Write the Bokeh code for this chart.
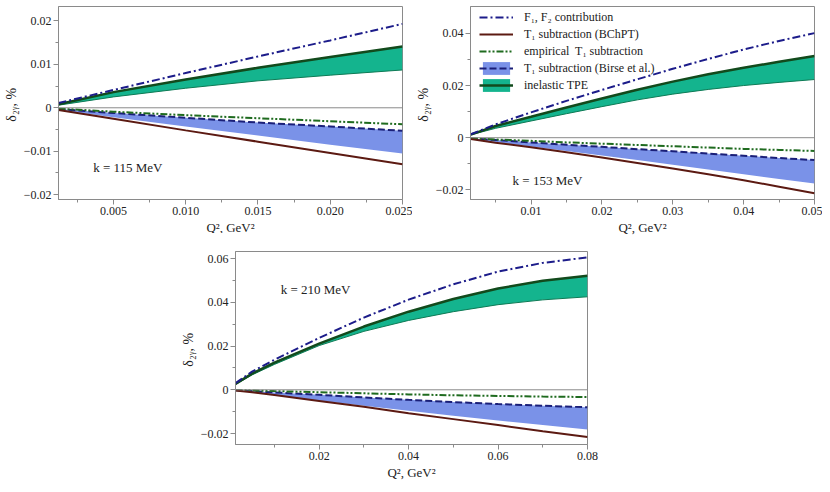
from bokeh.plotting import figure
from bokeh.models import Range1d, FixedTicker, Span, Label, Legend, LegendItem, Spacer
from bokeh.layouts import row, column
from bokeh.embed import file_html
from bokeh.resources import INLINE

# ---------------- data ----------------
P1_Q2 = [0.0012, 0.005, 0.010, 0.015, 0.020, 0.025]
P1_F1F2 = [0.0011, 0.0041, 0.0080, 0.0118, 0.0155, 0.0193]
P1_TPE_HI = [0.0008, 0.0036, 0.0065, 0.0092, 0.0117, 0.0141]
P1_TPE_LO = [0.0006, 0.0025, 0.0045, 0.0062, 0.0075, 0.0087]
P1_BCHPT = [-0.0005, -0.0025, -0.0052, -0.0078, -0.0104, -0.0130]
P1_EMP = [-0.0002, -0.0009, -0.0017, -0.0024, -0.0031, -0.0038]
P1_BIRSE_HI = [-0.0003, -0.0012, -0.0023, -0.0034, -0.0043, -0.0053]
P1_BIRSE_LO = [-0.0005, -0.0022, -0.0043, -0.0064, -0.0085, -0.0105]

P2_Q2 = [0.0015, 0.005, 0.010, 0.015, 0.020, 0.025, 0.030, 0.035, 0.040, 0.045, 0.050]
P2_F1F2 = [0.0013, 0.0051, 0.0097, 0.0141, 0.0183, 0.0224, 0.0264, 0.0302, 0.0338, 0.0371, 0.0401]
P2_TPE_HI = [0.0012, 0.0045, 0.0080, 0.0116, 0.0150, 0.0184, 0.0215, 0.0243, 0.0268, 0.0291, 0.0313]
P2_TPE_LO = [0.0011, 0.0036, 0.0064, 0.0092, 0.0119, 0.0145, 0.0167, 0.0185, 0.0200, 0.0212, 0.0223]
P2_BCHPT = [-0.0005, -0.0019, -0.0037, -0.0056, -0.0076, -0.0097, -0.0118, -0.0140, -0.0163, -0.0188, -0.0213]
P2_EMP = [-0.0002, -0.0007, -0.0012, -0.0018, -0.0023, -0.0028, -0.0033, -0.0038, -0.0043, -0.0047, -0.0051]
P2_BIRSE_HI = [-0.0003, -0.0009, -0.0018, -0.0027, -0.0035, -0.0044, -0.0052, -0.0061, -0.0069, -0.0078, -0.0086]
P2_BIRSE_LO = [-0.0005, -0.0017, -0.0034, -0.0051, -0.0068, -0.0086, -0.0104, -0.0122, -0.0140, -0.0158, -0.0176]

P3_Q2 = [0.0013, 0.005, 0.010, 0.020, 0.030, 0.040, 0.050, 0.060, 0.070, 0.080]
P3_F1F2 = [0.0030, 0.0083, 0.0137, 0.0237, 0.0330, 0.0412, 0.0482, 0.0540, 0.0580, 0.0605]
P3_TPE_HI = [0.0027, 0.0074, 0.0124, 0.0211, 0.0289, 0.0357, 0.0415, 0.0463, 0.0498, 0.0521]
P3_TPE_LO = [0.0024, 0.0068, 0.0116, 0.0202, 0.0267, 0.0317, 0.0357, 0.0389, 0.0411, 0.0425]
P3_BCHPT = [-0.0003, -0.0011, -0.0024, -0.0051, -0.0078, -0.0107, -0.0134, -0.0161, -0.0189, -0.0216]
P3_EMP = [-0.0001, -0.0003, -0.0006, -0.0011, -0.0016, -0.0021, -0.0025, -0.0028, -0.0031, -0.0033]
P3_BIRSE_HI = [-0.0002, -0.0006, -0.0012, -0.0023, -0.0035, -0.0046, -0.0056, -0.0065, -0.0073, -0.0080]
P3_BIRSE_LO = [-0.0004, -0.0012, -0.0025, -0.0050, -0.0073, -0.0096, -0.0119, -0.0140, -0.0161, -0.0182]

P1_XTICKS = [0.005, 0.010, 0.015, 0.020, 0.025]
P1_XLABELS = ["0.005", "0.010", "0.015", "0.020", "0.025"]
P1_XMINOR = [0.0025, 0.0075, 0.0125, 0.0175, 0.0225]
P1_YTICKS = [-0.02, -0.01, 0.0, 0.01, 0.02]
P1_YLABELS = ["\u22120.02", "\u22120.01", "0", "0.01", "0.02"]
P1_YMINOR = [-0.015, -0.005, 0.005, 0.015]

P2_XTICKS = [0.01, 0.02, 0.03, 0.04, 0.05]
P2_XLABELS = ["0.01", "0.02", "0.03", "0.04", "0.05"]
P2_XMINOR = [0.005, 0.015, 0.025, 0.035, 0.045]
P2_YTICKS = [-0.02, 0.0, 0.02, 0.04]
P2_YLABELS = ["\u22120.02", "0", "0.02", "0.04"]
P2_YMINOR = [-0.01, 0.01, 0.03]

P3_XTICKS = [0.02, 0.04, 0.06, 0.08]
P3_XLABELS = ["0.02", "0.04", "0.06", "0.08"]
P3_XMINOR = [0.01, 0.03, 0.05, 0.07]
P3_YTICKS = [-0.02, 0.0, 0.02, 0.04, 0.06]
P3_YLABELS = ["\u22120.02", "0", "0.02", "0.04", "0.06"]
P3_YMINOR = [-0.01, 0.01, 0.03, 0.05]

LEGEND_LABELS = ["F\u2081, F\u2082 contribution", "T\u2081 subtraction (BChPT)",
                 "empirical  T\u2081 subtraction", "T\u2081 subtraction (Birse et al.)",
                 "inelastic TPE"]

FONT = "Liberation Serif"
GRAY = "#8a8a8a"
C_F1F2 = "#1c1c8a"
C_BCHPT = "#5c1a12"
C_EMP = "#1f6b1f"
C_BIRSE_FILL = "#7a92e8"
C_BIRSE_LINE = "#1a1f78"
C_TPE_FILL = "#14b48e"
C_TPE_LINE = "#124a1c"


def make_panel(q2, f1f2, tpe_hi, tpe_lo, bchpt, emp, birse_hi, birse_lo,
               xr, yr, xt, xl, xm, yt, yl, ym, ktext, kx, ky, fw,
               border_left, border_right, border_top, border_bottom, legend=False):
    p = figure(frame_width=fw, frame_height=193, output_backend="svg",
               toolbar_location=None, x_range=Range1d(*xr), y_range=Range1d(*yr),
               min_border_left=border_left, min_border_right=border_right,
               min_border_top=border_top, min_border_bottom=border_bottom)
    p.xgrid.visible = False
    p.ygrid.visible = False
    p.outline_line_color = GRAY
    p.outline_line_width = 1
    p.background_fill_color = "white"

    for ax, ticks, labels, minor in ((p.xaxis[0], xt, xl, xm), (p.yaxis[0], yt, yl, ym)):
        ax.ticker = FixedTicker(ticks=ticks, minor_ticks=minor)
        ax.major_label_overrides = dict(zip(ticks, labels))
        ax.axis_line_color = GRAY
        ax.major_tick_line_color = GRAY
        ax.minor_tick_line_color = GRAY
        ax.major_tick_out = 5
        ax.major_tick_in = 0
        ax.minor_tick_out = 3
        ax.minor_tick_in = 0
        ax.major_label_text_font = FONT
        ax.major_label_text_font_size = "12px"
        ax.major_label_text_color = "#222222"
        ax.axis_label_text_font = FONT
        ax.axis_label_text_font_size = "13px"
        ax.axis_label_text_font_style = "normal"
        ax.axis_label_text_color = "#222222"
        ax.major_label_standoff = 2
        ax.axis_label_standoff = 2
    p.xaxis.axis_label = "Q\u00b2, GeV\u00b2"
    p.yaxis.axis_label = "\u03b4\u2082\u1d67,  %"
    p.yaxis.axis_label_text_font_size = "14px"

    p.add_layout(Span(location=0, dimension="width", line_color=GRAY, line_width=1))

    r_birse = p.varea(x=q2, y1=birse_lo, y2=birse_hi, fill_color=C_BIRSE_FILL)
    r_tpe = p.varea(x=q2, y1=tpe_lo, y2=tpe_hi, fill_color=C_TPE_FILL)
    p.line(q2, tpe_lo, line_color="#0e7a55", line_width=1)
    r_tpe_l = p.line(q2, tpe_hi, line_color=C_TPE_LINE, line_width=2.5)
    r_birse_l = p.line(q2, birse_hi, line_color=C_BIRSE_LINE, line_width=2, line_dash="7 3")
    r_emp = p.line(q2, emp, line_color=C_EMP, line_width=2, line_dash="7 2 2 2 2 2")
    r_bchpt = p.line(q2, bchpt, line_color=C_BCHPT, line_width=2)
    r_f1f2 = p.line(q2, f1f2, line_color=C_F1F2, line_width=2, line_dash="8 3 2 3")

    p.add_layout(Label(x=kx, y=ky, text=ktext, text_font=FONT, text_font_size="13px",
                       text_color="#222222", text_baseline="middle", text_align="left"))

    if legend:
        items = [LegendItem(label=LEGEND_LABELS[0], renderers=[r_f1f2]),
                 LegendItem(label=LEGEND_LABELS[1], renderers=[r_bchpt]),
                 LegendItem(label=LEGEND_LABELS[2], renderers=[r_emp]),
                 LegendItem(label=LEGEND_LABELS[3], renderers=[r_birse, r_birse_l]),
                 LegendItem(label=LEGEND_LABELS[4], renderers=[r_tpe, r_tpe_l])]
        lg = Legend(items=items, location=(7, 104), label_text_font=FONT,
                    label_text_font_size="12px", label_text_color="#222222",
                    glyph_width=34, glyph_height=16, label_height=16, spacing=1,
                    label_standoff=11, padding=2, margin=0,
                    background_fill_alpha=0, border_line_alpha=0)
        p.add_layout(lg)
    return p


p1 = make_panel(P1_Q2, P1_F1F2, P1_TPE_HI, P1_TPE_LO, P1_BCHPT, P1_EMP, P1_BIRSE_HI, P1_BIRSE_LO,
                (0.0012, 0.025), (-0.0211, 0.0233),
                P1_XTICKS, P1_XLABELS, P1_XMINOR, P1_YTICKS, P1_YLABELS, P1_YMINOR,
                "k = 115 MeV", 0.0036, -0.0137, 344, 48, 10, 2, 36)
p2 = make_panel(P2_Q2, P2_F1F2, P2_TPE_HI, P2_TPE_LO, P2_BCHPT, P2_EMP, P2_BIRSE_HI, P2_BIRSE_LO,
                (0.00146, 0.05), (-0.0237, 0.0503),
                P2_XTICKS, P2_XLABELS, P2_XMINOR, P2_YTICKS, P2_YLABELS, P2_YMINOR,
                "k = 153 MeV", 0.0074, -0.0166, 344, 46, 8, 6, 32, legend=True)
p3 = make_panel(P3_Q2, P3_F1F2, P3_TPE_HI, P3_TPE_LO, P3_BCHPT, P3_EMP, P3_BIRSE_HI, P3_BIRSE_LO,
                (0.0013, 0.08), (-0.025, 0.0632),
                P3_XTICKS, P3_XLABELS, P3_XMINOR, P3_YTICKS, P3_YLABELS, P3_YMINOR,
                "k = 210 MeV", 0.0114, 0.0459, 352, 48, 14, 14, 36)

layout = column(row(p1, p2), row(Spacer(width=177, height=10), p3))
open("out.html", "w").write(file_html(layout, INLINE))
